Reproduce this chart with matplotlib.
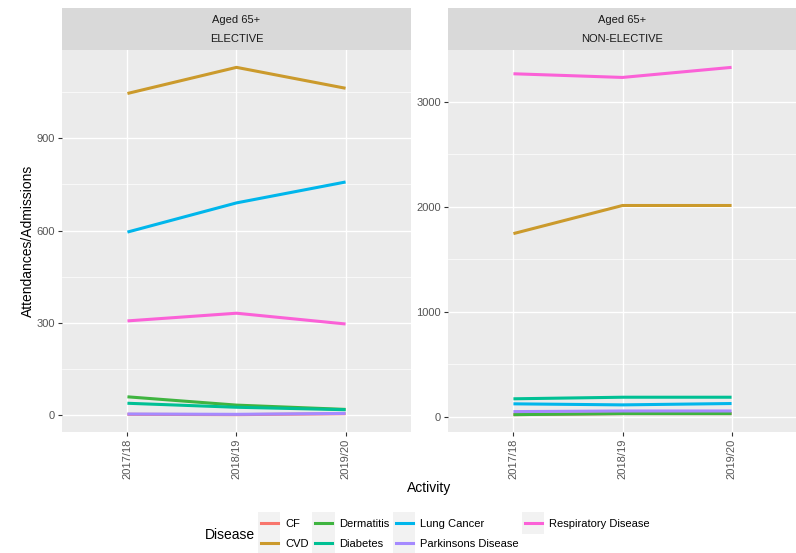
import matplotlib.pyplot as plt
import numpy as np
from matplotlib.legend_handler import HandlerLine2D
from matplotlib.lines import Line2D
from matplotlib.patches import Rectangle

plt.rcParams["font.family"] = ["Liberation Sans", "DejaVu Sans"]

# data
years = ["2017/18", "2018/19", "2019/20"]
diseases = ["CF", "CVD", "Dermatitis", "Diabetes", "Lung Cancer",
            "Parkinsons Disease", "Respiratory Disease"]
colors = ["#F8766D", "#CB9A2C", "#3FB440", "#00C094", "#00B6EB",
          "#A58AFF", "#FB61D7"]

elective_cf = [2, 1, 4]
elective_cvd = [1046, 1131, 1063]
elective_dermatitis = [59, 32, 18]
elective_diabetes = [38, 25, 17]
elective_lung = [595, 690, 758]
elective_parkinsons = [3, 2, 5]
elective_resp = [306, 331, 296]

nonelec_cf = [19, 29, 29]
nonelec_cvd = [1745, 2013, 2013]
nonelec_dermatitis = [19, 29, 29]
nonelec_diabetes = [170, 185, 185]
nonelec_lung = [122, 112, 125]
nonelec_parkinsons = [48, 54, 54]
nonelec_resp = [3269, 3234, 3330]

elective = [elective_cf, elective_cvd, elective_dermatitis, elective_diabetes,
            elective_lung, elective_parkinsons, elective_resp]
nonelective = [nonelec_cf, nonelec_cvd, nonelec_dermatitis, nonelec_diabetes,
               nonelec_lung, nonelec_parkinsons, nonelec_resp]

W, H = 796, 553
fig = plt.figure(figsize=(W / 100, H / 100), dpi=100)


def fx(px):
    return px / W


def fy(px):
    return 1 - px / H


panels = [
    (62, elective, "ELECTIVE", [0, 300, 600, 900], [150, 450, 750, 1050]),
    (448, nonelective, "NON-ELECTIVE", [0, 1000, 2000, 3000], [500, 1500, 2500]),
]

for left, series, label, majors, minors in panels:
    ax = fig.add_axes([fx(left), fy(432), fx(349), fy(50) - fy(432)])
    ax.set_facecolor("#EBEBEB")
    x = np.arange(len(years))
    for vals, c in zip(series, colors):
        ax.plot(x, vals, color=c, lw=2.2, solid_capstyle="butt", zorder=3)
    allv = np.concatenate([np.array(v, float) for v in series])
    lo, hi = allv.min(), allv.max()
    pad = (hi - lo) * 0.05
    ax.set_ylim(lo - pad, hi + pad)
    ax.set_xlim(-0.6, len(years) - 0.4)
    ax.set_yticks(majors)
    ax.set_yticks(minors, minor=True)
    ax.set_xticks(x)
    ax.set_xticklabels(years, rotation=90)
    ax.grid(True, which="major", color="white", lw=1.0, zorder=1)
    ax.grid(True, which="minor", axis="y", color="white", lw=0.5, zorder=1)
    ax.tick_params(which="major", length=3, width=0.8, color="#333333",
                   labelcolor="#555555", labelsize=8, pad=2)
    ax.tick_params(which="minor", length=0)
    for s in ax.spines.values():
        s.set_visible(False)
    ax.set_axisbelow(True)

    sax = fig.add_axes([fx(left), fy(50), fx(349), fy(8) - fy(50)])
    sax.set_facecolor("#D9D9D9")
    sax.set_xticks([])
    sax.set_yticks([])
    for s in sax.spines.values():
        s.set_visible(False)
    sax.text(0.5, 0.72, "Aged 65+", ha="center", va="center", fontsize=8,
             color="#1A1A1A", transform=sax.transAxes)
    sax.text(0.5, 0.26, label, ha="center", va="center", fontsize=8,
             color="#1A1A1A", transform=sax.transAxes)

fig.text(fx(28), fy(241), "Attendances/Admissions", rotation=90,
         ha="center", va="center", fontsize=10)
fig.text(fx(429), fy(488), "Activity", ha="center", va="center", fontsize=10)
fig.text(fx(205), fy(535), "Disease", ha="left", va="center", fontsize=10)


class KeyHandler(HandlerLine2D):
    def create_artists(self, legend, orig_handle, xdescent, ydescent,
                       width, height, fontsize, trans):
        rect = Rectangle((-xdescent - 2, -ydescent - 5), width + 4, height + 10,
                         facecolor="#F2F2F2", edgecolor="none", transform=trans)
        arts = super().create_artists(legend, orig_handle, xdescent, ydescent,
                                      width, height, fontsize, trans)
        return [rect] + list(arts)


handles = [Line2D([], [], color=c, lw=2.2) for c in colors]
fig.legend(handles, diseases, ncol=4, loc="center left",
           bbox_to_anchor=(fx(251), fy(534)), frameon=False, fontsize=8,
           handlelength=1.5, handletextpad=0.7, columnspacing=0.55,
           labelspacing=0.9, handler_map={Line2D: KeyHandler()})

fig.savefig("out.png", dpi=100)
